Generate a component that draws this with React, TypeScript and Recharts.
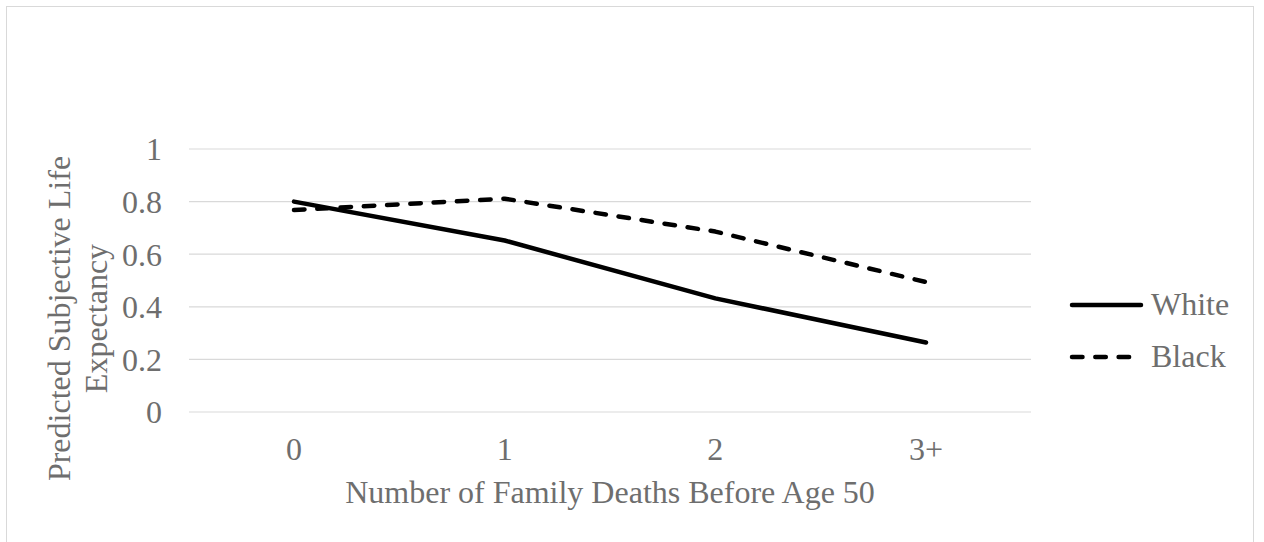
import React from 'react';
import { LineChart, Line, XAxis, YAxis, CartesianGrid, Legend } from 'recharts';

const categories = ['0', '1', '2', '3+'];
const whiteValues = [0.8, 0.652, 0.432, 0.264];
const blackValues = [0.768, 0.811, 0.686, 0.494];
const yTicks = [0, 0.2, 0.4, 0.6, 0.8, 1];
const seriesNames = ['White', 'Black'];
const xTitle = 'Number of Family Deaths Before Age 50';
const yTitleLines = ['Predicted Subjective Life', 'Expectancy'];

const data = categories.map((c, i) => ({
  cat: c,
  White: whiteValues[i],
  Black: blackValues[i],
}));

const FONT = "'Liberation Serif', 'Times New Roman', serif";
const TEXT = '#6e6e6e';
const DASH = '10.5 12.8';
const SW = 4.5;

const YTitle = () => (
  <text
    x={70}
    y={318.5}
    transform="rotate(-90, 70, 318.5)"
    textAnchor="middle"
    fill={TEXT}
    fontFamily={FONT}
    fontSize={32}
  >
    <tspan x={70} dy={0}>{yTitleLines[0]}</tspan>
    <tspan x={70} dy={37}>{yTitleLines[1]}</tspan>
  </text>
);

const XTitle = () => (
  <text x={610} y={503} textAnchor="middle" fill={TEXT} fontFamily={FONT} fontSize={32}>
    {xTitle}
  </text>
);

const LegendContent = () => (
  <svg width={200} height={110} style={{ display: 'block' }}>
    {seriesNames.map((name, i) => {
      const y = 25 + i * 52;
      return (
        <g key={name}>
          <line
            x1={14}
            x2={name === 'White' ? 83 : 80}
            y1={y}
            y2={y}
            stroke="#000"
            strokeWidth={SW}
            strokeLinecap="round"
            strokeDasharray={name === 'Black' ? DASH : undefined}
          />
          <text x={93} y={y + 10} fill={TEXT} fontFamily={FONT} fontSize={32}>
            {name}
          </text>
        </g>
      );
    })}
  </svg>
);

export default function App() {
  return (
    <div
      style={{
        position: 'absolute',
        left: 0,
        top: 0,
        width: 1264,
        height: 542,
        overflow: 'hidden',
        background: '#fff',
      }}
    >
      <div
        style={{
          position: 'absolute',
          left: 6,
          top: 6,
          width: 1246,
          height: 560,
          border: '1px solid #d9d9d9',
        }}
      />
      <div style={{ position: 'absolute', left: 0, top: 0 }}>
        <LineChart
          width={1264}
          height={542}
          data={data}
          margin={{ top: 149, right: 33, bottom: 100, left: 129 }}
        >
          <CartesianGrid vertical={false} stroke="#d9d9d9" strokeWidth={1.2} />
          <XAxis
            dataKey="cat"
            height={30}
            padding={{ left: 105, right: 105 }}
            axisLine={false}
            tickLine={false}
            tickSize={0}
            tickMargin={25}
            tick={{ fill: TEXT, fontSize: 32, fontFamily: FONT }}
            label={{ content: XTitle }}
          />
          <YAxis
            width={60}
            domain={[0, 1]}
            ticks={yTicks}
            interval={0}
            axisLine={false}
            tickLine={false}
            tickSize={0}
            tickMargin={27}
            tick={{ fill: TEXT, fontSize: 32, fontFamily: FONT }}
            label={{ content: YTitle }}
          />
          <Legend
            layout="horizontal"
            verticalAlign="middle"
            align="right"
            width={200}
            height={110}
            wrapperStyle={{ left: 1058, top: 280 }}
            content={LegendContent}
          />
          <Line
            dataKey="White"
            type="linear"
            stroke="#000"
            strokeWidth={SW}
            strokeLinecap="round"
            strokeLinejoin="round"
            dot={false}
            activeDot={false}
            isAnimationActive={false}
          />
          <Line
            dataKey="Black"
            type="linear"
            stroke="#000"
            strokeWidth={SW}
            strokeLinecap="round"
            strokeLinejoin="round"
            strokeDasharray={DASH}
            dot={false}
            activeDot={false}
            isAnimationActive={false}
          />
        </LineChart>
      </div>
    </div>
  );
}
